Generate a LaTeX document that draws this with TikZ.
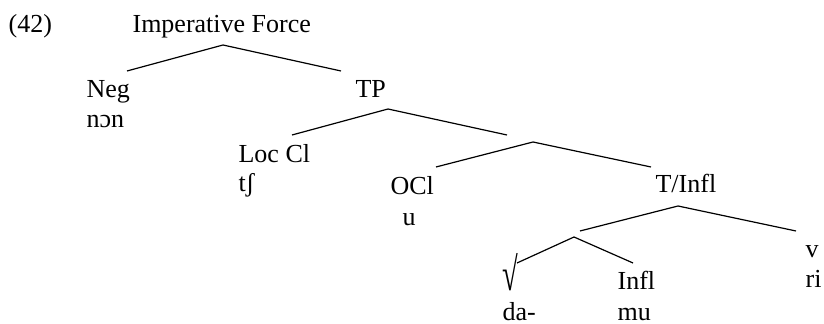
\documentclass[tikz,border=0pt]{standalone}
\usepackage{fontspec}
\setmainfont{Liberation Serif}
\usepackage{tikz}
\usetikzlibrary{positioning,calc}

\tikzset{lbl/.style={anchor=base west, inner sep=0pt, font=\fontsize{13}{15}\selectfont}}

\begin{document}
\begin{tikzpicture}[x = .5pt, y = -.5pt, line width=.6pt]
\useasboundingbox (0,0) rectangle (824,324);

\node[lbl] (ex) at (8, 33) {(42)};
\node[lbl] (force) at (132, 33) {Imperative Force};

\node[lbl] (neg) at (86, 98) {Neg};
\node[lbl] (non) at (86, 128) {nɔn};
\node[lbl] (tp) at (355, 98) {TP};

\node[lbl] (loccl) at (238, 163) {Loc Cl};
\node[lbl] (tsh) at (238, 192) {tʃ};

\node[lbl] (ocl) at (390, 195) {OCl};
\node[lbl] (u) at (402, 226) {u};
\node[lbl] (tinfl) at (655, 193) {T/Infl};

\node[lbl] (v) at (805, 258) {v};
\node[lbl] (ri) at (805, 288) {ri};

\node[lbl, anchor=south west] (root) at (502, 291) {\scalebox{1.1}[1.8]{√}};
\node[lbl] (da) at (502, 321) {da-};
\node[lbl] (infl) at (617, 290) {Infl};
\node[lbl] (mu) at (617, 321) {mu};

% branch points
\coordinate (force-b) at (223, 45);
\coordinate (neg-t) at (127, 71);
\coordinate (tp-t) at (341, 71);

\coordinate (tp-b) at (388, 109);
\coordinate (loccl-t) at (292, 135);
\coordinate (bar1-t) at (507, 135);

\coordinate (bar1-b) at (533, 142);
\coordinate (ocl-t) at (436, 167);
\coordinate (tinfl-t) at (651, 167);

\coordinate (tinfl-b) at (678, 206);
\coordinate (bar2-t) at (580, 231);
\coordinate (v-t) at (796, 231);

\coordinate (bar2-b) at (574, 237);
\coordinate (root-t) at (517, 263);
\coordinate (infl-t) at (633, 263);

\draw (neg-t) -- (force-b) -- (tp-t);
\draw (loccl-t) -- (tp-b) -- (bar1-t);
\draw (ocl-t) -- (bar1-b) -- (tinfl-t);
\draw (bar2-t) -- (tinfl-b) -- (v-t);
\draw (root-t) -- (bar2-b) -- (infl-t);

\end{tikzpicture}
\end{document}
